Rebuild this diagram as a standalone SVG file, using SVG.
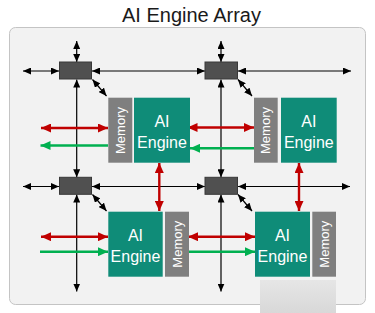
<svg xmlns="http://www.w3.org/2000/svg" width="375" height="313" viewBox="0 0 375 313">
  <style>
    .title { font-family: "Liberation Sans", Arial, sans-serif; font-size: 20px; fill: #1a1a1a; }
    .eng { fill: #0f8c78; }
    .mem { fill: #7f7f7f; }
    .sw { fill: #505050; stroke: #383838; stroke-width: 1; }
    .lbl { font-family: "Liberation Sans", Arial, sans-serif; font-size: 16px; fill: #ffffff; text-anchor: middle; }
    .mlbl { font-family: "Liberation Sans", Arial, sans-serif; font-size: 13px; fill: #ffffff; text-anchor: middle; dominant-baseline: central; }
    .blk { stroke: #000; stroke-width: 1.2; fill: none; marker-start: url(#ab); marker-end: url(#ab); }
    .red { stroke: #c00000; stroke-width: 2.4; fill: none; marker-start: url(#ar); marker-end: url(#ar); }
    .grn { stroke: #00b050; stroke-width: 2.4; fill: none; marker-end: url(#ag); }
  </style>
  <defs>
    <marker id="ab" markerUnits="userSpaceOnUse" markerWidth="8" markerHeight="7" refX="8" refY="3.5" orient="auto-start-reverse">
      <path d="M0,0 L8,3.5 L0,7 z" fill="#000"/>
    </marker>
    <marker id="ar" markerUnits="userSpaceOnUse" markerWidth="10" markerHeight="9" refX="10" refY="4.5" orient="auto-start-reverse">
      <path d="M0,0 L10,4.5 L0,9 z" fill="#c00000"/>
    </marker>
    <marker id="ag" markerUnits="userSpaceOnUse" markerWidth="10" markerHeight="9" refX="10" refY="4.5" orient="auto-start-reverse">
      <path d="M0,0 L10,4.5 L0,9 z" fill="#00b050"/>
    </marker>
    <linearGradient id="shade" x1="0" y1="0" x2="0" y2="1">
      <stop offset="0" stop-color="#e6e6e6"/>
      <stop offset="1" stop-color="#d8d8d8"/>
    </linearGradient>
  </defs>

  <text class="title" x="191.5" y="22" text-anchor="middle">AI Engine Array</text>

  <!-- array panel -->
  <rect x="9.5" y="27.5" width="356" height="277" rx="6" fill="#f2f2f2" stroke="#c4c4c4" stroke-width="1"/>

  <!-- interconnect -->
  <g id="connectors">
    <!-- row 1 stream lines -->
    <line class="blk" x1="23" y1="71" x2="59" y2="71"/>
    <line class="blk" x1="92" y1="71" x2="205" y2="71"/>
    <line class="blk" x1="238" y1="71" x2="351" y2="71"/>
    <!-- row 2 stream lines -->
    <line class="blk" x1="23" y1="186.5" x2="59" y2="186.5"/>
    <line class="blk" x1="92" y1="186.5" x2="205" y2="186.5"/>
    <line class="blk" x1="238" y1="186.5" x2="350" y2="186.5"/>
    <!-- column 1 verticals -->
    <line class="blk" x1="76.7" y1="41" x2="76.7" y2="62"/>
    <line class="blk" x1="76.7" y1="79.5" x2="76.7" y2="177.3"/>
    <line class="blk" x1="76.7" y1="194.5" x2="76.7" y2="291.5"/>
    <!-- column 2 verticals -->
    <line class="blk" x1="221" y1="41" x2="221" y2="62"/>
    <line class="blk" x1="221" y1="79.5" x2="221" y2="177.3"/>
    <line class="blk" x1="221" y1="194.5" x2="221" y2="291.5"/>
    <!-- switch to tile -->
    <line class="blk" x1="92.5" y1="79.5" x2="106.5" y2="96"/>
    <line class="blk" x1="238" y1="79.5" x2="252" y2="96"/>
    <line class="blk" x1="92.5" y1="194.5" x2="106.5" y2="211"/>
    <line class="blk" x1="238" y1="194.5" x2="252" y2="211"/>

    <!-- cascade / memory links -->
    <line class="red" x1="41" y1="128" x2="108" y2="128"/>
    <line class="red" x1="187.5" y1="127.5" x2="254" y2="127.5"/>
    <line class="red" x1="41" y1="236.7" x2="108" y2="236.7"/>
    <line class="red" x1="188" y1="236.7" x2="255" y2="236.7"/>
    <line class="red" x1="159.3" y1="163" x2="159.3" y2="211"/>
    <line class="red" x1="299" y1="163" x2="299" y2="211"/>

    <line class="grn" x1="108" y1="145.5" x2="40.5" y2="145.5"/>
    <line class="grn" x1="254" y1="148.3" x2="190" y2="148.3"/>
    <line class="grn" x1="40" y1="251.7" x2="108" y2="251.7"/>
    <line class="grn" x1="188" y1="251.7" x2="255" y2="251.7"/>
  </g>

  <!-- switches -->
  <g id="switch-1-1"><rect class="sw" x="59.5" y="62" width="32" height="17"/></g>
  <g id="switch-1-2"><rect class="sw" x="205" y="62" width="32.5" height="17"/></g>
  <g id="switch-2-1"><rect class="sw" x="59.5" y="177.3" width="32" height="17"/></g>
  <g id="switch-2-2"><rect class="sw" x="205" y="177.3" width="32.5" height="17"/></g>

  <!-- tiles, row 1 -->
  <g id="tile-1-1">
    <rect class="mem" x="108.3" y="97.7" width="24" height="65"/>
    <text class="mlbl" transform="translate(120.3,130.5) rotate(-90)">Memory</text>
    <rect class="eng" x="134" y="97.7" width="56" height="65"/>
    <text class="lbl" x="162" y="126.5">AI</text>
    <text class="lbl" x="162" y="147.5">Engine</text>
  </g>
  <g id="tile-1-2">
    <rect class="mem" x="254" y="97.7" width="23.7" height="65"/>
    <text class="mlbl" transform="translate(265.9,130.5) rotate(-90)">Memory</text>
    <rect class="eng" x="281" y="97.7" width="55.7" height="65"/>
    <text class="lbl" x="308.8" y="126.5">AI</text>
    <text class="lbl" x="308.8" y="147.5">Engine</text>
  </g>

  <!-- tiles, row 2 -->
  <g id="tile-2-1">
    <rect class="eng" x="108.3" y="211.7" width="54.4" height="65"/>
    <text class="lbl" x="135.5" y="240.5">AI</text>
    <text class="lbl" x="135.5" y="261.5">Engine</text>
    <rect class="mem" x="165" y="211.7" width="24" height="65"/>
    <text class="mlbl" transform="translate(177,244.2) rotate(-90)">Memory</text>
  </g>
  <g id="tile-2-2">
    <rect class="eng" x="255" y="211.7" width="55" height="65"/>
    <text class="lbl" x="282.5" y="240.5">AI</text>
    <text class="lbl" x="282.5" y="261.5">Engine</text>
    <rect class="mem" x="312.3" y="211.7" width="23.7" height="65"/>
    <text class="mlbl" transform="translate(324.2,244.2) rotate(-90)">Memory</text>
  </g>

  <!-- shaded block at lower edge -->
  <rect x="260" y="280" width="76" height="33" fill="url(#shade)"/>
</svg>
